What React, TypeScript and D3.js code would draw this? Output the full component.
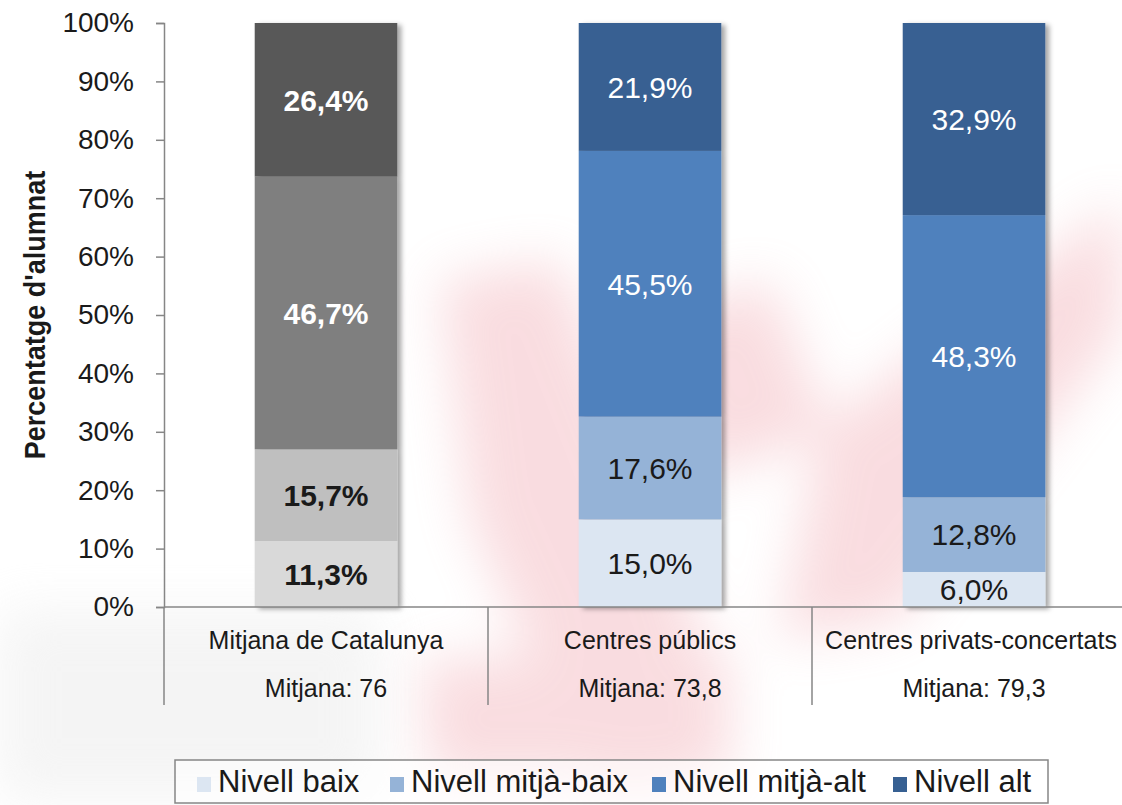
import React, { useEffect, useRef } from "react";
import * as d3 from "d3";

const categories = ["Mitjana de Catalunya", "Centres públics", "Centres privats-concertats"];
const averages = ["Mitjana: 76", "Mitjana: 73,8", "Mitjana: 79,3"];
const levels = ["Nivell baix", "Nivell mitjà-baix", "Nivell mitjà-alt", "Nivell alt"];

const catalunya = [11.3, 15.7, 46.7, 26.4];
const publics = [15.0, 17.6, 45.5, 21.9];
const privats = [6.0, 12.8, 48.3, 32.9];

const yTicks = [0, 10, 20, 30, 40, 50, 60, 70, 80, 90, 100];

const greys = ["#d9d9d9", "#bfbfbf", "#7f7f7f", "#595959"];
const blues = ["#dce6f2", "#95b3d7", "#4f81bd", "#376092"];

const FONT = "'Liberation Sans', Arial, sans-serif";

const App: React.FC = () => {
  const svgRef = useRef<SVGSVGElement>(null);

  useEffect(() => {
    const W = 1122;
    const H = 805;
    const svg = d3.select(svgRef.current);
    svg.selectAll("*").remove();

    const defs = svg.append("defs");
    defs
      .append("filter")
      .attr("id", "shadow")
      .attr("x", "-10%")
      .attr("y", "-5%")
      .attr("width", "130%")
      .attr("height", "115%")
      .append("feDropShadow")
      .attr("dx", 4)
      .attr("dy", 2)
      .attr("stdDeviation", 2.5)
      .attr("flood-color", "#000")
      .attr("flood-opacity", 0.35);
    defs
      .append("filter")
      .attr("id", "blur")
      .attr("x", "-50%")
      .attr("y", "-50%")
      .attr("width", "200%")
      .attr("height", "200%")
      .append("feGaussianBlur")
      .attr("stdDeviation", 26);

    svg.append("rect").attr("width", W).attr("height", H).attr("fill", "#fff");

    // faint watermark in the background
    const wm = svg.append("g").attr("filter", "url(#blur)").attr("opacity", 0.32);
    const shapes: [number, number][][] = [
      [[440, 280], [560, 260], [700, 620], [680, 790], [590, 790], [470, 520]],
      [[1122, 200], [1122, 330], [900, 620], [780, 640], [820, 430]],
      [[420, 660], [730, 650], [730, 780], [430, 780]],
      [[650, 320], [770, 280], [830, 430], [700, 480]],
    ];
    shapes.forEach((p) => {
      wm.append("path").attr("d", d3.line()(p)! + "Z").attr("fill", "#ee96a0");
    });
    svg
      .append("rect")
      .attr("x", 0)
      .attr("y", 610)
      .attr("width", 380)
      .attr("height", 190)
      .attr("fill", "#e8e8e8")
      .attr("opacity", 0.45)
      .attr("filter", "url(#blur)");

    const x = d3
      .scaleBand()
      .domain(categories)
      .range([164, 1136])
      .paddingInner(0.56)
      .paddingOuter(0.28);
    const step = x.step();
    const y = d3.scaleLinear().domain([0, 100]).range([607, 23]);

    const seriesData = [catalunya, publics, privats];
    const palettes = [greys, blues, blues];

    // y axis
    const axis = svg.append("g").attr("transform", "translate(164,0)").call(
      d3
        .axisLeft(y)
        .tickValues(yTicks)
        .tickSize(8)
        .tickPadding(22)
        .tickFormat((d) => `${d}%`)
    );
    axis.select(".domain").attr("stroke", "#868686").attr("stroke-width", 1.5);
    axis.selectAll(".tick line").attr("stroke", "#868686").attr("stroke-width", 1.5);
    axis
      .selectAll(".tick text")
      .attr("font-family", FONT)
      .attr("font-size", 28)
      .attr("fill", "#1a1a1a");

    // bars
    seriesData.forEach((vals, ci) => {
      const cat = categories[ci];
      const stacked: { v: number; y0: number; y1: number; i: number }[] = [];
      let acc = 0;
      vals.forEach((v, i) => {
        stacked.push({ v, y0: acc, y1: Math.min(100, acc + v), i });
        acc += v;
      });
      const g = svg.append("g");
      g.append("g")
        .attr("filter", "url(#shadow)")
        .selectAll("rect")
        .data(stacked)
        .enter()
        .append("rect")
        .attr("x", x(cat)!)
        .attr("width", x.bandwidth())
        .attr("y", (d) => y(d.y1))
        .attr("height", (d) => y(d.y0) - y(d.y1))
        .attr("fill", (d) => palettes[ci][d.i]);
      g.selectAll("text")
        .data(stacked)
        .enter()
        .append("text")
        .attr("x", x(cat)! + x.bandwidth() / 2)
        .attr("y", (d) => y((d.y0 + d.y1) / 2))
        .attr("dy", "0.36em")
        .attr("text-anchor", "middle")
        .attr("font-family", FONT)
        .attr("font-size", 30)
        .attr("font-weight", ci === 0 ? "bold" : "normal")
        .attr("fill", (d) => (d.i >= 2 ? "#ffffff" : "#1a1a1a"))
        .text((d) => `${d.v.toFixed(1).replace(".", ",")}%`);
    });

    // baseline and category separators
    svg
      .append("line")
      .attr("x1", 164)
      .attr("x2", W)
      .attr("y1", y(0))
      .attr("y2", y(0))
      .attr("stroke", "#868686")
      .attr("stroke-width", 1.5);
    categories.forEach((c) => {
      const sx = x(c)! - (step - x.bandwidth()) / 2;
      svg
        .append("line")
        .attr("x1", sx)
        .attr("x2", sx)
        .attr("y1", y(0))
        .attr("y2", 705)
        .attr("stroke", "#868686")
        .attr("stroke-width", 1.5);
    });

    // category labels
    const catG = svg.append("g").attr("font-family", FONT).attr("fill", "#1a1a1a").attr("text-anchor", "middle");
    categories.forEach((c, i) => {
      const cx = x(c)! + x.bandwidth() / 2;
      catG.append("text").attr("x", Math.min(cx, 1119 - 148)).attr("y", 649).attr("font-size", 25).text(c);
      catG.append("text").attr("x", cx).attr("y", 697).attr("font-size", 25).text(averages[i]);
    });

    // y title
    svg
      .append("text")
      .attr("transform", "translate(45,315) scale(1.12,1) rotate(-90)")
      .attr("text-anchor", "middle")
      .attr("font-family", FONT)
      .attr("font-size", 27)
      .attr("font-weight", "bold")
      .attr("fill", "#1a1a1a")
      .text("Percentatge d'alumnat");

    // legend
    const leg = svg.append("g");
    leg
      .append("rect")
      .attr("x", 175)
      .attr("y", 760)
      .attr("width", 873)
      .attr("height", 43)
      .attr("fill", "#fff")
      .attr("fill-opacity", 0.6)
      .attr("stroke", "#868686")
      .attr("stroke-width", 1.5);
    const legX = [197, 390, 652, 893];
    levels.forEach((l, i) => {
      leg
        .append("rect")
        .attr("x", legX[i])
        .attr("y", 777)
        .attr("width", 14)
        .attr("height", 15)
        .attr("fill", blues[i]);
      leg
        .append("text")
        .attr("x", legX[i] + 21)
        .attr("y", 792)
        .attr("font-family", FONT)
        .attr("font-size", 31)
        .attr("fill", "#1a1a1a")
        .text(l);
    });
  }, []);

  return (
    <svg
      ref={svgRef}
      width={1122}
      height={805}
      style={{ position: "absolute", left: 0, top: 0 }}
    ></svg>
  );
};

export default App;
